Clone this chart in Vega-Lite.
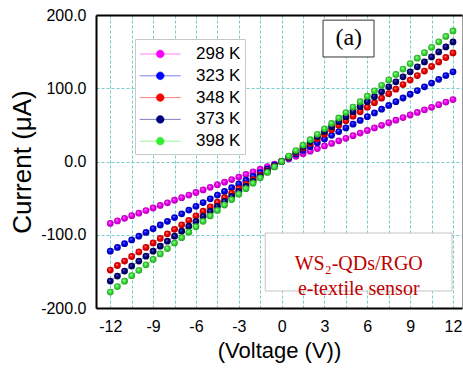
{
  "$schema": "https://vega.github.io/schema/vega-lite/v6.json",
  "width": 366,
  "height": 293,
  "autosize": {"type": "none"},
  "padding": {"left": 96, "top": 15, "right": 1, "bottom": 68},
  "background": "white",
  "config": {
    "view": {"stroke": "#9a9a9a", "strokeWidth": 1},
    "axis": {
      "labelFont": "Liberation Sans",
      "labelFontSize": 16,
      "labelColor": "black",
      "titleFont": "Liberation Sans",
      "titleFontWeight": "normal",
      "titleColor": "black",
      "ticks": false,
      "tickSize": 0,
      "domainColor": "black",
      "domainWidth": 2,
      "gridColor": "#74cccc",
      "gridDash": [3, 2],
      "gridWidth": 1
    }
  },
  "data": {
    "values": [
      {"T": "298 K", "V": -12, "I": -84.6}, {"T": "298 K", "V": -11.5, "I": -81.1}, {"T": "298 K", "V": -11, "I": -77.6}, {"T": "298 K", "V": -10.5, "I": -74.0}, {"T": "298 K", "V": -10, "I": -70.5}, {"T": "298 K", "V": -9.5, "I": -67.0}, {"T": "298 K", "V": -9, "I": -63.5}, {"T": "298 K", "V": -8.5, "I": -59.9}, {"T": "298 K", "V": -8, "I": -56.4}, {"T": "298 K", "V": -7.5, "I": -52.9}, {"T": "298 K", "V": -7, "I": -49.4}, {"T": "298 K", "V": -6.5, "I": -45.8}, {"T": "298 K", "V": -6, "I": -42.3}, {"T": "298 K", "V": -5.5, "I": -38.8}, {"T": "298 K", "V": -5, "I": -35.3}, {"T": "298 K", "V": -4.5, "I": -31.7}, {"T": "298 K", "V": -4, "I": -28.2}, {"T": "298 K", "V": -3.5, "I": -24.7}, {"T": "298 K", "V": -3, "I": -21.2}, {"T": "298 K", "V": -2.5, "I": -17.6}, {"T": "298 K", "V": -2, "I": -14.1}, {"T": "298 K", "V": -1.5, "I": -10.6}, {"T": "298 K", "V": -1, "I": -7.1}, {"T": "298 K", "V": -0.5, "I": -3.5}, {"T": "298 K", "V": 0, "I": 0},
      {"T": "298 K", "V": 0.5, "I": 3.5}, {"T": "298 K", "V": 1, "I": 7.1}, {"T": "298 K", "V": 1.5, "I": 10.6}, {"T": "298 K", "V": 2, "I": 14.1}, {"T": "298 K", "V": 2.5, "I": 17.6}, {"T": "298 K", "V": 3, "I": 21.2}, {"T": "298 K", "V": 3.5, "I": 24.7}, {"T": "298 K", "V": 4, "I": 28.2}, {"T": "298 K", "V": 4.5, "I": 31.7}, {"T": "298 K", "V": 5, "I": 35.3}, {"T": "298 K", "V": 5.5, "I": 38.8}, {"T": "298 K", "V": 6, "I": 42.3}, {"T": "298 K", "V": 6.5, "I": 45.8}, {"T": "298 K", "V": 7, "I": 49.4}, {"T": "298 K", "V": 7.5, "I": 52.9}, {"T": "298 K", "V": 8, "I": 56.4}, {"T": "298 K", "V": 8.5, "I": 59.9}, {"T": "298 K", "V": 9, "I": 63.5}, {"T": "298 K", "V": 9.5, "I": 67.0}, {"T": "298 K", "V": 10, "I": 70.5}, {"T": "298 K", "V": 10.5, "I": 74.0}, {"T": "298 K", "V": 11, "I": 77.6}, {"T": "298 K", "V": 11.5, "I": 81.1}, {"T": "298 K", "V": 12, "I": 84.6},

      {"T": "323 K", "V": -12, "I": -122.4}, {"T": "323 K", "V": -11.5, "I": -117.3}, {"T": "323 K", "V": -11, "I": -112.2}, {"T": "323 K", "V": -10.5, "I": -107.1}, {"T": "323 K", "V": -10, "I": -102.0}, {"T": "323 K", "V": -9.5, "I": -96.9}, {"T": "323 K", "V": -9, "I": -91.8}, {"T": "323 K", "V": -8.5, "I": -86.7}, {"T": "323 K", "V": -8, "I": -81.6}, {"T": "323 K", "V": -7.5, "I": -76.5}, {"T": "323 K", "V": -7, "I": -71.4}, {"T": "323 K", "V": -6.5, "I": -66.3}, {"T": "323 K", "V": -6, "I": -61.2}, {"T": "323 K", "V": -5.5, "I": -56.1}, {"T": "323 K", "V": -5, "I": -51.0}, {"T": "323 K", "V": -4.5, "I": -45.9}, {"T": "323 K", "V": -4, "I": -40.8}, {"T": "323 K", "V": -3.5, "I": -35.7}, {"T": "323 K", "V": -3, "I": -30.6}, {"T": "323 K", "V": -2.5, "I": -25.5}, {"T": "323 K", "V": -2, "I": -20.4}, {"T": "323 K", "V": -1.5, "I": -15.3}, {"T": "323 K", "V": -1, "I": -10.2}, {"T": "323 K", "V": -0.5, "I": -5.1}, {"T": "323 K", "V": 0, "I": 0},
      {"T": "323 K", "V": 0.5, "I": 5.1}, {"T": "323 K", "V": 1, "I": 10.2}, {"T": "323 K", "V": 1.5, "I": 15.3}, {"T": "323 K", "V": 2, "I": 20.4}, {"T": "323 K", "V": 2.5, "I": 25.5}, {"T": "323 K", "V": 3, "I": 30.6}, {"T": "323 K", "V": 3.5, "I": 35.7}, {"T": "323 K", "V": 4, "I": 40.8}, {"T": "323 K", "V": 4.5, "I": 45.9}, {"T": "323 K", "V": 5, "I": 51.0}, {"T": "323 K", "V": 5.5, "I": 56.1}, {"T": "323 K", "V": 6, "I": 61.2}, {"T": "323 K", "V": 6.5, "I": 66.3}, {"T": "323 K", "V": 7, "I": 71.4}, {"T": "323 K", "V": 7.5, "I": 76.5}, {"T": "323 K", "V": 8, "I": 81.6}, {"T": "323 K", "V": 8.5, "I": 86.7}, {"T": "323 K", "V": 9, "I": 91.8}, {"T": "323 K", "V": 9.5, "I": 96.9}, {"T": "323 K", "V": 10, "I": 102.0}, {"T": "323 K", "V": 10.5, "I": 107.1}, {"T": "323 K", "V": 11, "I": 112.2}, {"T": "323 K", "V": 11.5, "I": 117.3}, {"T": "323 K", "V": 12, "I": 122.4},

      {"T": "348 K", "V": -12, "I": -148.2}, {"T": "348 K", "V": -11.5, "I": -142.0}, {"T": "348 K", "V": -11, "I": -135.9}, {"T": "348 K", "V": -10.5, "I": -129.7}, {"T": "348 K", "V": -10, "I": -123.5}, {"T": "348 K", "V": -9.5, "I": -117.3}, {"T": "348 K", "V": -9, "I": -111.2}, {"T": "348 K", "V": -8.5, "I": -105.0}, {"T": "348 K", "V": -8, "I": -98.8}, {"T": "348 K", "V": -7.5, "I": -92.6}, {"T": "348 K", "V": -7, "I": -86.5}, {"T": "348 K", "V": -6.5, "I": -80.3}, {"T": "348 K", "V": -6, "I": -74.1}, {"T": "348 K", "V": -5.5, "I": -67.9}, {"T": "348 K", "V": -5, "I": -61.8}, {"T": "348 K", "V": -4.5, "I": -55.6}, {"T": "348 K", "V": -4, "I": -49.4}, {"T": "348 K", "V": -3.5, "I": -43.2}, {"T": "348 K", "V": -3, "I": -37.1}, {"T": "348 K", "V": -2.5, "I": -30.9}, {"T": "348 K", "V": -2, "I": -24.7}, {"T": "348 K", "V": -1.5, "I": -18.5}, {"T": "348 K", "V": -1, "I": -12.4}, {"T": "348 K", "V": -0.5, "I": -6.2}, {"T": "348 K", "V": 0, "I": 0},
      {"T": "348 K", "V": 0.5, "I": 6.2}, {"T": "348 K", "V": 1, "I": 12.4}, {"T": "348 K", "V": 1.5, "I": 18.5}, {"T": "348 K", "V": 2, "I": 24.7}, {"T": "348 K", "V": 2.5, "I": 30.9}, {"T": "348 K", "V": 3, "I": 37.1}, {"T": "348 K", "V": 3.5, "I": 43.2}, {"T": "348 K", "V": 4, "I": 49.4}, {"T": "348 K", "V": 4.5, "I": 55.6}, {"T": "348 K", "V": 5, "I": 61.8}, {"T": "348 K", "V": 5.5, "I": 67.9}, {"T": "348 K", "V": 6, "I": 74.1}, {"T": "348 K", "V": 6.5, "I": 80.3}, {"T": "348 K", "V": 7, "I": 86.5}, {"T": "348 K", "V": 7.5, "I": 92.6}, {"T": "348 K", "V": 8, "I": 98.8}, {"T": "348 K", "V": 8.5, "I": 105.0}, {"T": "348 K", "V": 9, "I": 111.2}, {"T": "348 K", "V": 9.5, "I": 117.3}, {"T": "348 K", "V": 10, "I": 123.5}, {"T": "348 K", "V": 10.5, "I": 129.7}, {"T": "348 K", "V": 11, "I": 135.9}, {"T": "348 K", "V": 11.5, "I": 142.0}, {"T": "348 K", "V": 12, "I": 148.2},

      {"T": "373 K", "V": -12, "I": -163.2}, {"T": "373 K", "V": -11.5, "I": -156.4}, {"T": "373 K", "V": -11, "I": -149.6}, {"T": "373 K", "V": -10.5, "I": -142.8}, {"T": "373 K", "V": -10, "I": -136.0}, {"T": "373 K", "V": -9.5, "I": -129.2}, {"T": "373 K", "V": -9, "I": -122.4}, {"T": "373 K", "V": -8.5, "I": -115.6}, {"T": "373 K", "V": -8, "I": -108.8}, {"T": "373 K", "V": -7.5, "I": -102.0}, {"T": "373 K", "V": -7, "I": -95.2}, {"T": "373 K", "V": -6.5, "I": -88.4}, {"T": "373 K", "V": -6, "I": -81.6}, {"T": "373 K", "V": -5.5, "I": -74.8}, {"T": "373 K", "V": -5, "I": -68.0}, {"T": "373 K", "V": -4.5, "I": -61.2}, {"T": "373 K", "V": -4, "I": -54.4}, {"T": "373 K", "V": -3.5, "I": -47.6}, {"T": "373 K", "V": -3, "I": -40.8}, {"T": "373 K", "V": -2.5, "I": -34.0}, {"T": "373 K", "V": -2, "I": -27.2}, {"T": "373 K", "V": -1.5, "I": -20.4}, {"T": "373 K", "V": -1, "I": -13.6}, {"T": "373 K", "V": -0.5, "I": -6.8}, {"T": "373 K", "V": 0, "I": 0},
      {"T": "373 K", "V": 0.5, "I": 6.8}, {"T": "373 K", "V": 1, "I": 13.6}, {"T": "373 K", "V": 1.5, "I": 20.4}, {"T": "373 K", "V": 2, "I": 27.2}, {"T": "373 K", "V": 2.5, "I": 34.0}, {"T": "373 K", "V": 3, "I": 40.8}, {"T": "373 K", "V": 3.5, "I": 47.6}, {"T": "373 K", "V": 4, "I": 54.4}, {"T": "373 K", "V": 4.5, "I": 61.2}, {"T": "373 K", "V": 5, "I": 68.0}, {"T": "373 K", "V": 5.5, "I": 74.8}, {"T": "373 K", "V": 6, "I": 81.6}, {"T": "373 K", "V": 6.5, "I": 88.4}, {"T": "373 K", "V": 7, "I": 95.2}, {"T": "373 K", "V": 7.5, "I": 102.0}, {"T": "373 K", "V": 8, "I": 108.8}, {"T": "373 K", "V": 8.5, "I": 115.6}, {"T": "373 K", "V": 9, "I": 122.4}, {"T": "373 K", "V": 9.5, "I": 129.2}, {"T": "373 K", "V": 10, "I": 136.0}, {"T": "373 K", "V": 10.5, "I": 142.8}, {"T": "373 K", "V": 11, "I": 149.6}, {"T": "373 K", "V": 11.5, "I": 156.4}, {"T": "373 K", "V": 12, "I": 163.2},

      {"T": "398 K", "V": -12, "I": -178.2}, {"T": "398 K", "V": -11.5, "I": -170.8}, {"T": "398 K", "V": -11, "I": -163.4}, {"T": "398 K", "V": -10.5, "I": -155.9}, {"T": "398 K", "V": -10, "I": -148.5}, {"T": "398 K", "V": -9.5, "I": -141.1}, {"T": "398 K", "V": -9, "I": -133.7}, {"T": "398 K", "V": -8.5, "I": -126.2}, {"T": "398 K", "V": -8, "I": -118.8}, {"T": "398 K", "V": -7.5, "I": -111.4}, {"T": "398 K", "V": -7, "I": -104.0}, {"T": "398 K", "V": -6.5, "I": -96.5}, {"T": "398 K", "V": -6, "I": -89.1}, {"T": "398 K", "V": -5.5, "I": -81.7}, {"T": "398 K", "V": -5, "I": -74.3}, {"T": "398 K", "V": -4.5, "I": -66.8}, {"T": "398 K", "V": -4, "I": -59.4}, {"T": "398 K", "V": -3.5, "I": -52.0}, {"T": "398 K", "V": -3, "I": -44.6}, {"T": "398 K", "V": -2.5, "I": -37.1}, {"T": "398 K", "V": -2, "I": -29.7}, {"T": "398 K", "V": -1.5, "I": -22.3}, {"T": "398 K", "V": -1, "I": -14.9}, {"T": "398 K", "V": -0.5, "I": -7.4}, {"T": "398 K", "V": 0, "I": 0},
      {"T": "398 K", "V": 0.5, "I": 7.4}, {"T": "398 K", "V": 1, "I": 14.9}, {"T": "398 K", "V": 1.5, "I": 22.3}, {"T": "398 K", "V": 2, "I": 29.7}, {"T": "398 K", "V": 2.5, "I": 37.1}, {"T": "398 K", "V": 3, "I": 44.6}, {"T": "398 K", "V": 3.5, "I": 52.0}, {"T": "398 K", "V": 4, "I": 59.4}, {"T": "398 K", "V": 4.5, "I": 66.8}, {"T": "398 K", "V": 5, "I": 74.3}, {"T": "398 K", "V": 5.5, "I": 81.7}, {"T": "398 K", "V": 6, "I": 89.1}, {"T": "398 K", "V": 6.5, "I": 96.5}, {"T": "398 K", "V": 7, "I": 104.0}, {"T": "398 K", "V": 7.5, "I": 111.4}, {"T": "398 K", "V": 8, "I": 118.8}, {"T": "398 K", "V": 8.5, "I": 126.2}, {"T": "398 K", "V": 9, "I": 133.7}, {"T": "398 K", "V": 9.5, "I": 141.1}, {"T": "398 K", "V": 10, "I": 148.5}, {"T": "398 K", "V": 10.5, "I": 155.9}, {"T": "398 K", "V": 11, "I": 163.4}, {"T": "398 K", "V": 11.5, "I": 170.8}, {"T": "398 K", "V": 12, "I": 178.2}
    ]
  },
  "resolve": {"axis": {"x": "independent"}},
  "layer": [
    {
      "mark": {"type": "line", "strokeWidth": 1, "opacity": 0.5},
      "encoding": {
        "x": {
          "field": "V",
          "type": "quantitative",
          "scale": {"domain": [-13, 12.63], "nice": false, "zero": false},
          "axis": {
            "orient": "bottom",
            "values": [-12, -10.5, -9, -7.5, -6, -4.5, -3, -1.5, 0, 1.5, 3, 4.5, 6, 7.5, 9, 10.5, 12],
            "labelExpr": "datum.value % 3 === 0 ? '' + datum.value : ''",
            "labelPadding": 10,
            "grid": true,
            "title": "(Voltage (V))",
            "titleFontSize": 22,
            "titlePadding": 6
          }
        },
        "y": {
          "field": "I",
          "type": "quantitative",
          "scale": {"domain": [-200, 200], "nice": false},
          "axis": {
            "values": [-200, -150, -100, -50, 0, 50, 100, 150, 200],
            "labelExpr": "datum.value % 100 === 0 ? datum.value + '.0' : ''",
            "labelPadding": 10,
            "grid": true,
            "title": "Current (μA)",
            "titleFontSize": 26,
            "titlePadding": 5
          }
        },
        "color": {
          "field": "T",
          "type": "nominal",
          "scale": {
            "domain": ["298 K", "323 K", "348 K", "373 K", "398 K"],
            "range": ["#ff00ff", "#0000ff", "#ff0000", "#000080", "#33ee33"]
          },
          "legend": {
            "title": null,
            "orient": "none",
            "legendX": 39,
            "legendY": 24,
            "fillColor": "white",
            "strokeColor": "#c8c8c8",
            "padding": 4,
            "labelFont": "Liberation Sans",
            "labelFontSize": 17,
            "labelColor": "black",
            "symbolType": "M-1,0H3M1.38,0A0.38,0.38 0 1 1 0.62,0A0.38,0.38 0 1 1 1.38,0Z",
            "symbolSize": 420,
            "symbolStrokeWidth": 1,
            "rowPadding": 2.8,
            "labelOffset": 35,
            "symbolOpacity": 1,
            "encode": {
              "symbols": {
                "update": {
                  "fill": {"scale": "color", "field": "value"},
                  "stroke": {"scale": "color", "field": "value"},
                  "fillOpacity": {"value": 1},
                  "strokeOpacity": {"value": 0.5},
                  "opacity": {"value": 1}
                }
              }
            }
          }
        }
      }
    },
    {
      "transform": [{"filter": "datum.T === '298 K'"}],
      "mark": {"type": "circle", "size": 46, "opacity": 1, "fill": {"gradient": "radial", "x1": 0.4, "y1": 0.35, "r1": 0, "x2": 0.5, "y2": 0.5, "r2": 0.5, "stops": [{"offset": 0, "color": "#ffd0ff"}, {"offset": 0.35, "color": "#ff00ff"}, {"offset": 1, "color": "#b000b0"}]}},
      "encoding": {"x": {"field": "V", "type": "quantitative", "axis": null}, "y": {"field": "I", "type": "quantitative"}}
    },
    {
      "transform": [{"filter": "datum.T === '323 K'"}],
      "mark": {"type": "circle", "size": 46, "opacity": 1, "fill": {"gradient": "radial", "x1": 0.4, "y1": 0.35, "r1": 0, "x2": 0.5, "y2": 0.5, "r2": 0.5, "stops": [{"offset": 0, "color": "#b0b0ff"}, {"offset": 0.35, "color": "#0000ff"}, {"offset": 1, "color": "#0000a0"}]}},
      "encoding": {"x": {"field": "V", "type": "quantitative", "axis": null}, "y": {"field": "I", "type": "quantitative"}}
    },
    {
      "transform": [{"filter": "datum.T === '348 K'"}],
      "mark": {"type": "circle", "size": 46, "opacity": 1, "fill": {"gradient": "radial", "x1": 0.4, "y1": 0.35, "r1": 0, "x2": 0.5, "y2": 0.5, "r2": 0.5, "stops": [{"offset": 0, "color": "#ffc0c0"}, {"offset": 0.35, "color": "#ff0000"}, {"offset": 1, "color": "#b00000"}]}},
      "encoding": {"x": {"field": "V", "type": "quantitative", "axis": null}, "y": {"field": "I", "type": "quantitative"}}
    },
    {
      "transform": [{"filter": "datum.T === '373 K'"}],
      "mark": {"type": "circle", "size": 46, "opacity": 1, "fill": {"gradient": "radial", "x1": 0.4, "y1": 0.35, "r1": 0, "x2": 0.5, "y2": 0.5, "r2": 0.5, "stops": [{"offset": 0, "color": "#8c8cd0"}, {"offset": 0.35, "color": "#000088"}, {"offset": 1, "color": "#000050"}]}},
      "encoding": {"x": {"field": "V", "type": "quantitative", "axis": null}, "y": {"field": "I", "type": "quantitative"}}
    },
    {
      "transform": [{"filter": "datum.T === '398 K'"}],
      "mark": {"type": "circle", "size": 46, "opacity": 1, "fill": {"gradient": "radial", "x1": 0.4, "y1": 0.35, "r1": 0, "x2": 0.5, "y2": 0.5, "r2": 0.5, "stops": [{"offset": 0, "color": "#d0ffd0"}, {"offset": 0.35, "color": "#44ee44"}, {"offset": 1, "color": "#22a022"}]}},
      "encoding": {"x": {"field": "V", "type": "quantitative", "axis": null}, "y": {"field": "I", "type": "quantitative"}}
    },
    {
      "data": {"values": [{}]},
      "mark": {"type": "rect", "fill": "white", "stroke": "#333333", "strokeWidth": 1},
      "encoding": {
        "x": {"datum": 2.9, "type": "quantitative", "axis": {"orient": "top", "labels": false, "ticks": false, "grid": false, "title": null, "domain": true}},
        "x2": {"datum": 6.47},
        "y": {"datum": 142.7, "type": "quantitative"},
        "y2": {"datum": 193}
      }
    },
    {
      "data": {"values": [{}]},
      "mark": {"type": "text", "text": "(a)", "font": "Liberation Serif", "fontSize": 24, "color": "black", "align": "center", "baseline": "middle"},
      "encoding": {
        "x": {"datum": 4.7, "type": "quantitative", "axis": null},
        "y": {"datum": 168, "type": "quantitative"}
      }
    },
    {
      "data": {"values": [{}]},
      "mark": {"type": "rect", "fill": "white", "stroke": "#c4c4c4", "strokeWidth": 1},
      "encoding": {
        "x": {"datum": -1.15, "type": "quantitative", "axis": null},
        "x2": {"datum": 11.93},
        "y": {"datum": -97.6, "type": "quantitative"},
        "y2": {"datum": -176.8}
      }
    },
    {
      "data": {"values": [{}]},
      "mark": {"type": "text", "text": ["WS₂-QDs/RGO", "e-textile sensor"], "font": "Liberation Serif, DejaVu Serif", "fontSize": 20, "lineHeight": 25, "color": "#c00000", "align": "center", "baseline": "middle"},
      "encoding": {
        "x": {"datum": 5.4, "type": "quantitative", "axis": null},
        "y": {"datum": -140.6, "type": "quantitative"}
      }
    }
  ]
}
